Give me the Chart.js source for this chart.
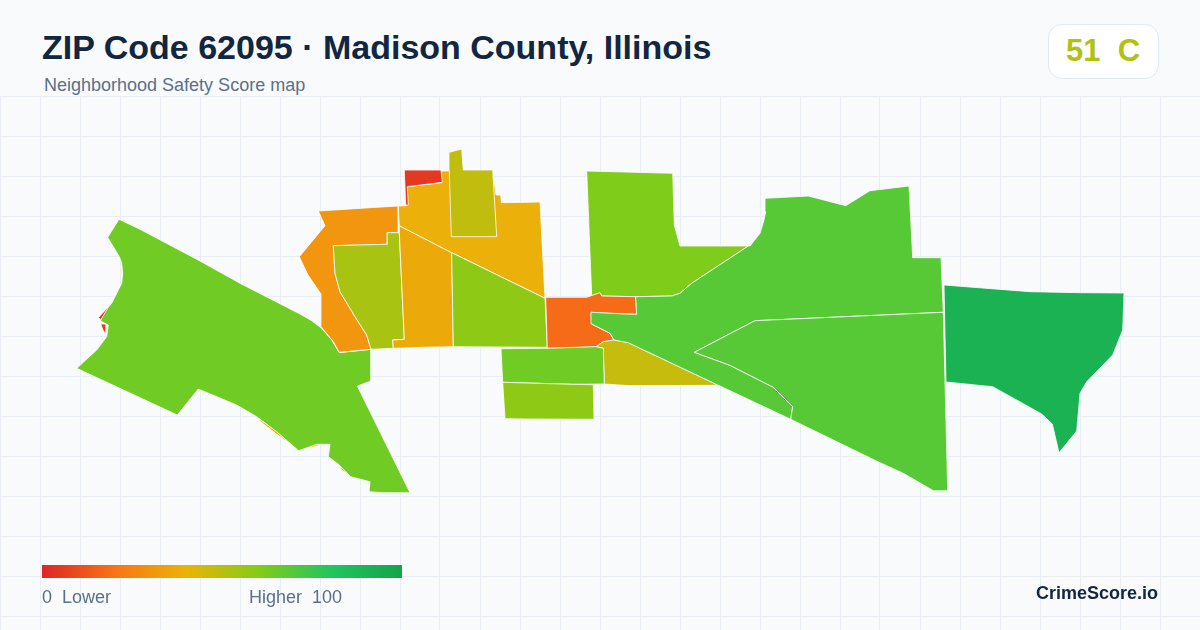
<!DOCTYPE html>
<html>
<head>
<meta charset="utf-8">
<title>ZIP Code 62095 Neighborhood Safety Score map</title>
<script src="https://cdn.jsdelivr.net/npm/chart.js@4/dist/chart.umd.min.js"></script>
<style>
    html, body { margin: 0; padding: 0; width: 1200px; height: 630px; overflow: hidden; background: #f8fafc; font-family: "Liberation Sans", Arial, sans-serif; }
    #mapWrap { position: absolute; left: 0; top: 96px; width: 1200px; height: 534px; }
    .txt { position: absolute; white-space: pre; line-height: 1; }
    #title { left: 42px; top: 30px; font-size: 34px; font-weight: 700; color: #12263f; }
    #subtitle { left: 44px; top: 76px; font-size: 18px; color: #5b7089; }
    #badge { position: absolute; left: 1048px; top: 24px; width: 109px; height: 53px; background: #fff; border: 1px solid #e2e8f0; border-radius: 14px; }
    #badgeText { left: 1066px; top: 35px; font-size: 31px; font-weight: 700; color: #b2c110; }
    #scaleBar { position: absolute; left: 42px; top: 565px; width: 360px; height: 13px; }
    #scaleLow { left: 42px; top: 588px; font-size: 18px; color: #5b7089; }
    #scaleHigh { left: 249px; top: 588px; font-size: 18px; color: #5b7089; }
    #brand { right: 42px; top: 584px; font-size: 18px; font-weight: 700; color: #12263f; }
</style>
</head>
<body>
<div id="mapWrap"><canvas id="map"></canvas></div>
<div class="txt" id="title"></div>
<div class="txt" id="subtitle"></div>
<div id="badge"></div>
<div class="txt" id="badgeText"></div>
<div id="scaleBar"></div>
<div class="txt" id="scaleLow"></div>
<div class="txt" id="scaleHigh"></div>
<div class="txt" id="brand"></div>
<script>
const titleText = 'ZIP Code 62095 · Madison County, Illinois';
const subtitleText = 'Neighborhood Safety Score map';
const overallScore = 51;
const overallGrade = 'C';

// score scale, used for the legend bar and to colour each tract
const scaleStops = [0, 20, 40, 60, 80, 100];
const scaleColors = ['#dc2626', '#f97316', '#eab308', '#84cc16', '#22c55e', '#16a34a'];

// tract outlines, [x, y]
const redSliverA = [[109, 306], [98.3, 317.7], [100.7, 319.3], [106, 314]];
const redSliverB = [[100.7, 324], [106.7, 324], [106, 335], [103, 330]];
const redSliverC = [[121.7, 268], [122.8, 268], [122.8, 273], [121.7, 273]];
const redSliverD = [[369, 208], [374, 207.5], [373, 210.5]];
const goldSliverA = [[258, 418], [276, 431], [293, 446], [277, 434.5], [261, 422]];
const goldSliverB = [[306.7, 448.3], [314, 445], [322.7, 444.7], [314, 447]];
const goldSliverC = [[338.3, 466.7], [344, 469], [348.5, 474.5], [343, 471]];
const westTract = [[119, 219.3], [140, 229.3], [200, 261], [240, 283.3], [300, 314], [311.7, 320.7], [321.7, 328.3], [331.7, 340], [339.3, 352.7], [371, 349.3], [371, 381], [357.3, 386], [410, 492.7], [382.7, 492.7], [369, 491.7], [370, 481.7], [350.7, 476.7], [339.3, 465], [328.3, 456.7], [330, 444.3], [316.7, 444.3], [298.7, 450.7], [290, 443.3], [276.7, 431.7], [256.7, 416.7], [236.7, 405], [198.3, 389], [177.3, 415], [76.7, 368.3], [96.7, 350], [106.7, 336.7], [108.3, 325], [100.5, 321], [101.7, 318.3], [108.3, 307.3], [111.7, 303.3], [121.7, 283.3], [122.7, 273.3], [121.7, 263], [119.3, 256.7], [107.7, 237.3]];
const orangeTract = [[318.3, 211], [370, 207.7], [398.3, 206], [398.3, 232.7], [387.3, 232.7], [387.3, 244.3], [333.3, 245.7], [335, 273.3], [340, 291.7], [355, 316.7], [366.7, 335], [371, 349.3], [339.3, 352.3], [333.3, 341.7], [321, 326.7], [321, 294], [308, 275], [299.3, 256.7], [325, 225.7]];
const innerWestTract = [[333.3, 245.7], [387.3, 244.3], [387.3, 232.7], [399.3, 232.7], [404.3, 339.3], [392.7, 340], [393.3, 348.3], [371, 349.3], [366.7, 335], [355, 316.7], [340, 291.7], [335, 273.3]];
const middleTract = [[399.3, 225.7], [451.7, 252.7], [453.3, 346.7], [423.3, 347.3], [393.3, 348.3], [392.7, 340], [404.3, 339.3], [399.3, 232.7]];
const goldTract = [[398.3, 206], [406.7, 205.7], [407.3, 186.7], [441.7, 182.7], [441, 171], [449.3, 171], [492.7, 170], [496, 195], [500.7, 195], [501.3, 202.7], [540, 202], [545, 298.3], [451.7, 252.7], [399.3, 225.7]];
const oliveTract = [[449, 152.3], [461.7, 149], [463.3, 170], [492.7, 170], [496.7, 236.7], [451.3, 236.7], [449.3, 171]];
const redTract = [[404.3, 170], [441, 170], [442.3, 182.3], [407.3, 186.7], [408.3, 205], [405.7, 205]];
const centerTract = [[451.7, 252.7], [545, 298.3], [547.3, 347.3], [453.3, 346.7]];
const northTract = [[586.7, 171], [672.7, 173.3], [674.3, 225], [680, 246], [748.3, 246], [691.7, 283.3], [680, 293.3], [671.7, 296], [635.7, 296.7], [601.7, 296], [600, 292.7], [591.7, 296]];
const hotTract = [[545.7, 297.3], [586.7, 297.3], [600, 292.7], [601.7, 296], [635.7, 296.7], [636.7, 314.3], [625, 314], [591, 312.3], [591.7, 324], [610, 333.3], [614, 340], [603.3, 341.7], [596, 346.7], [570, 347.7], [547.3, 348.3]];
const wedgeTract = [[614, 340], [628.3, 342.7], [718.3, 385.3], [630, 385.7], [604.3, 384], [603.3, 348.3], [596, 346.7], [603.3, 341.7]];
const blockTract = [[501, 348.7], [547.3, 348.3], [596, 346.7], [603.3, 348.3], [604.3, 384], [571.7, 384.3], [502.7, 382.3]];
const lowerBlockTract = [[502.7, 382.3], [571.7, 384.3], [593.3, 384.7], [594, 419.3], [528.3, 419], [505, 418.7]];
const eastNorthTract = [[765, 198.3], [808.3, 196], [845.7, 205.7], [870, 190.7], [909, 186], [912.7, 257.7], [941, 257.7], [943.3, 312.3], [755, 320.7], [694.3, 352.3], [730, 365.3], [773.3, 387.3], [792.7, 406.7], [790.7, 419.3], [720, 386], [718.3, 385.3], [628.3, 342.7], [614, 340], [610, 333.3], [591.7, 324], [591, 312.3], [625, 314], [636.7, 314.3], [635.7, 296.7], [671.7, 296], [680, 293.3], [691.7, 283.3], [748.3, 246], [750, 246], [760, 233.3], [764, 220], [765.7, 211.7]];
const eastSouthTract = [[755, 320.7], [943.3, 312.3], [947.7, 490.7], [933.3, 490.7], [903.3, 473.3], [880, 462.7], [790.7, 419.3], [792.7, 406.7], [773.3, 387.3], [730, 365.3], [694.3, 352.3]];
const farEastTract = [[944, 285], [1030, 291.7], [1080.7, 292.7], [1124, 293], [1122.7, 330], [1112.7, 355], [1086.7, 381.7], [1080, 393.3], [1076.7, 431], [1059, 452.7], [1052.3, 424], [1041.7, 414], [992.7, 386.7], [946, 382]];

// drawing order (bottom first) and score of each tract
const tracts = [redSliverA, redSliverB, redSliverC, redSliverD, goldSliverA, goldSliverB, goldSliverC, westTract, orangeTract, innerWestTract, middleTract, goldTract, oliveTract, redTract, centerTract, northTract, hotTract, wedgeTract, blockTract, lowerBlockTract, eastNorthTract, eastSouthTract, farEastTract];
const tractScores = [5, 5, 5, 5, 39, 39, 39, 64, 31, 53, 37, 39, 48, 5, 58, 61, 18, 47, 64, 58, 69, 69, 91];

function hexToRgb(hex) {
    return [1, 3, 5].map((i) => parseInt(hex.slice(i, i + 2), 16));
}

function scoreColor(score) {
    let i = 0;
    while (i < scaleStops.length - 2 && score > scaleStops[i + 1]) i++;
    const t = (score - scaleStops[i]) / (scaleStops[i + 1] - scaleStops[i]);
    const a = hexToRgb(scaleColors[i]);
    const b = hexToRgb(scaleColors[i + 1]);
    return `rgb(${a.map((v, k) => Math.round(v + (b[k] - v) * t)).join(',')})`;
}

function gridTicks(from, to) {
    const ticks = [];
    for (let v = from; v <= to; v += 40) ticks.push({ value: v });
    return ticks;
}

document.getElementById('title').innerText = titleText;
document.getElementById('subtitle').innerText = subtitleText;
document.getElementById('badgeText').innerText = `${overallScore}  ${overallGrade}`;
document.getElementById('badgeText').style.color = scoreColor(overallScore);
document.getElementById('scaleLow').innerText = `${scaleStops[0]}  Lower`;
document.getElementById('scaleHigh').innerText = `Higher  ${scaleStops[scaleStops.length - 1]}`;
document.getElementById('brand').innerText = 'CrimeScore.io';
document.getElementById('scaleBar').style.background = `linear-gradient(to right, ${scaleColors.map((c, i) => `${c} ${scaleStops[i]}%`).join(', ')})`;

const datasets = tracts.map((outline, i) => {
    const color = scoreColor(tractScores[i]);
    return {
        data: outline.concat([outline[0]]).map(([x, y]) => ({ x, y })),
        // chart.js paints the highest order first
        order: tracts.length - i,
        showLine: true,
        fill: 'shape',
        backgroundColor: color,
        borderColor: '#ffffff',
        borderWidth: 0.8,
        borderJoinStyle: 'round',
        pointRadius: 0,
        tension: 0,
    };
});

new Chart(document.getElementById('map'), {
    type: 'scatter',
    data: { datasets },
    options: {
        responsive: true,
        maintainAspectRatio: false,
        animation: false,
        events: [],
        layout: { padding: 0 },
        plugins: { legend: { display: false }, tooltip: { enabled: false } },
        scales: {
            x: {
                min: 0,
                max: 1200,
                afterBuildTicks: (axis) => { axis.ticks = gridTicks(0, 1200); },
                ticks: { display: false },
                grid: { color: '#e9eef5', drawTicks: false },
                border: { display: false },
            },
            y: {
                min: 96,
                max: 630,
                reverse: true,
                afterBuildTicks: (axis) => { axis.ticks = gridTicks(96, 630); },
                ticks: { display: false },
                grid: { color: '#e9eef5', drawTicks: false },
                border: { display: false },
            },
        },
    },
});
</script>
</body>
</html>
